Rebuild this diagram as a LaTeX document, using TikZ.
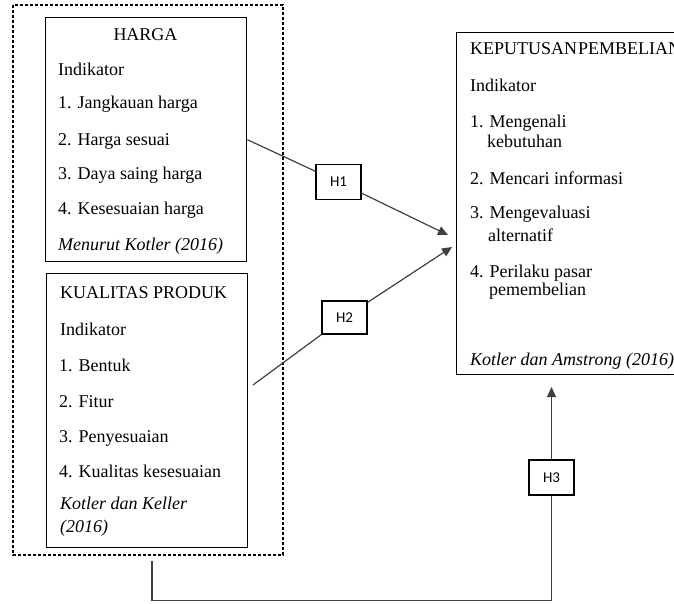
\documentclass[tikz,border=0pt]{standalone}
\usepackage{fontspec}
\setmainfont{Liberation Serif}
\newfontfamily\hfont{Carlito}
\usetikzlibrary{arrows.meta,positioning,calc}

\begin{document}
\begin{tikzpicture}[
  x=1pt,y=-1pt,font=\fontsize{18}{21}\selectfont,
  varbox/.style={draw=black, line width=1.4pt, inner sep=0pt, anchor=north west},
  groupbox/.style={draw=black, line width=1.4pt, dash pattern=on 3pt off 2pt},
  hyp/.style={draw=black, line width=1.4pt, fill=white, minimum width=45pt,
    minimum height=35pt, inner sep=0pt, font=\hfont\fontsize{15}{18}\selectfont},
  txt/.style={anchor=base west, inner sep=0pt},
  ttl/.style={anchor=base, inner sep=0pt},
  src/.style={txt, font=\fontsize{18}{21}\selectfont\itshape},
  link/.style={line width=1.2pt, draw=black!75},
  arrow/.style={link, -{Triangle[length=10pt,width=9pt]}}
]
  \clip (0,0) rectangle (674,604);

  \draw[groupbox] (13,5) rectangle (283,555);

  \node[varbox, minimum width=201pt, minimum height=244pt] (harga) at (45,17) {};
  \node[ttl] (hg-t) at (145.5,41) {HARGA};
  \node[txt] (hg-i) at (58,76) {Indikator};
  \node[txt] (hg-1) at (58,109) {1. Jangkauan harga};
  \node[txt] (hg-2) at (58,146) {2. Harga sesuai};
  \node[txt] (hg-3) at (58,180) {3. Daya saing harga};
  \node[txt] (hg-4) at (58,214) {4. Kesesuaian harga};
  \node[src] (hg-s) at (58,250) {Menurut Kotler (2016)};

  \node[varbox, minimum width=201pt, minimum height=274pt] (kualitas) at (46,273) {};
  \node[txt] (kp-t) at (60,298) {KUALITAS PRODUK};
  \node[txt] (kp-i) at (60,335) {Indikator};
  \node[txt] (kp-1) at (59,371) {1. Bentuk};
  \node[txt] (kp-2) at (59,407) {2. Fitur};
  \node[txt] (kp-3) at (59,442) {3. Penyesuaian};
  \node[txt] (kp-4) at (59,477) {4. Kualitas kesesuaian};
  \node[src] (kp-s) at (60,509) {Kotler dan Keller};
  \node[src] (kp-y) at (60,532) {(2016)};

  \node[varbox, minimum width=240pt, minimum height=342pt] (keputusan) at (456,32) {};
  \node[txt] (kb-t) at (470,55) {KEPUTUSAN\hspace{1pt}PEMBELIAN};
  \node[txt] (kb-i) at (470,92) {Indikator};
  \node[txt] (kb-1) at (470,128) {1. Mengenali};
  \node[txt] (kb-1b) at (487,148) {kebutuhan};
  \node[txt] (kb-2) at (470,185) {2. Mencari informasi};
  \node[txt] (kb-3) at (470,218) {3. Mengevaluasi};
  \node[txt] (kb-3b) at (488,241) {alternatif};
  \node[txt] (kb-4) at (470,277) {4. Perilaku pasar};
  \node[txt] (kb-4b) at (489,295) {pemembelian};
  \node[src] (kb-s) at (470,365) {Kotler dan Amstrong (2016)};

  \node[hyp] (h1) at (338.5,182) {H1};
  \node[hyp, minimum height=33pt] (h2) at (344.5,317.5) {H2};
  \node[hyp] (h3) at (551.5,477.5) {H3};

  \coordinate (k2) at (253,385);
  \coordinate (t1) at (448,235);
  \coordinate (t2) at (452,247);
  \coordinate (t3) at (551.5,387);
  \coordinate (b0) at (152,561);
  \coordinate (b1) at (551.5,600.5);

  \draw[link] (harga.east) -- (h1);
  \draw[arrow] (h1) -- (t1);
  \draw[link] (k2) -- (h2);
  \draw[arrow] (h2) -- (t2);
  \draw[link] (b0) |- (b1) -- (h3);
  \draw[arrow] (h3) -- (t3);
\end{tikzpicture}
\end{document}
